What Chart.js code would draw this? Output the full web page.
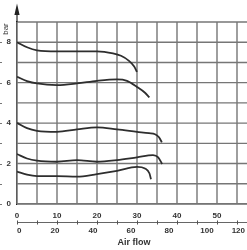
<!DOCTYPE html>
<html><head><meta charset="utf-8">
<script src="https://cdn.jsdelivr.net/npm/chart.js@4.4.0/dist/chart.umd.min.js"></script>
<style>html,body{margin:0;padding:0;background:#fff;overflow:hidden;width:247px;height:250px}#wrap{width:270px;height:250px}</style>
</head><body><div id="wrap"><canvas id="c" width="270" height="250"></canvas></div>
<script>
// Air flow (upper scale units) and pressure (bar) for each curve
const flow8 = [0, 2.5, 5, 10, 15, 20, 24, 26, 28, 29.3, 30];
const bar8  = [8.0, 7.75, 7.6, 7.55, 7.55, 7.55, 7.45, 7.33, 7.08, 6.8, 6.53];
const flow6 = [0, 2.5, 5, 10, 15, 20, 25, 27.5, 30, 32, 33.1];
const bar6  = [6.29, 6.08, 5.96, 5.88, 5.96, 6.09, 6.16, 6.09, 5.79, 5.5, 5.27];
const flow4 = [0, 2.5, 5, 10, 15, 20, 25, 30, 33, 34.5, 35.5, 36.2];
const bar4  = [4.01, 3.75, 3.62, 3.57, 3.69, 3.79, 3.69, 3.57, 3.5, 3.45, 3.3, 3.05];
const flow2 = [0, 2.5, 5, 10, 15, 20, 25, 30, 34, 35.3, 36.3];
const bar2  = [2.47, 2.25, 2.14, 2.09, 2.17, 2.09, 2.17, 2.31, 2.42, 2.31, 1.98];
const flow1 = [0, 2.5, 5, 10, 15, 20, 25, 30, 32, 33.1, 33.5];
const bar1  = [1.60, 1.45, 1.38, 1.38, 1.35, 1.48, 1.64, 1.84, 1.76, 1.52, 1.22];
const upperTicks = [0, 10, 20, 30, 40, 50, 60];
const lowerTicks = [0, 20, 40, 60, 80, 100, 120];
const yTicks = [0, 2, 4, 6, 8];
const yLabel = 'bar';
const xLabel = 'Air flow';

const curves = [[flow8, bar8], [flow6, bar6], [flow4, bar4], [flow2, bar2], [flow1, bar1]];
const datasets = curves.map(([fx, py]) => ({
  data: fx.map((x, i) => ({x: x, y: py[i]})),
  borderColor: '#2e2e2e', borderWidth: 1.8, pointRadius: 0,
  cubicInterpolationMode: 'monotone', fill: false
}));

const X_MAX = 62.5;
const RATIO = 0.475; // upper units per lower unit
const GRID = '#767676';
const tickFont = {family: 'Liberation Sans', size: 8, weight: 'bold'};

const decor = {
  id: 'decor',
  beforeDatasetsDraw(chart) {
    const ctx = chart.ctx, xs = chart.scales.x, ys = chart.scales.y, a = chart.chartArea;
    ctx.save();
    ctx.lineWidth = 1.4;
    ctx.strokeStyle = GRID;
    for (const t of xs.ticks) {
      const px = xs.getPixelForValue(t.value);
      ctx.beginPath(); ctx.moveTo(px, a.top); ctx.lineTo(px, a.bottom); ctx.stroke();
    }
    for (const t of ys.ticks) {
      const py = ys.getPixelForValue(t.value);
      ctx.beginPath(); ctx.moveTo(a.left, py); ctx.lineTo(a.right, py); ctx.stroke();
    }
    ctx.restore();
  },
  afterDraw(chart) {
    const ctx = chart.ctx, xs = chart.scales.x, ys = chart.scales.y;
    const ax = xs.left, top = ys.top;
    ctx.save();
    ctx.strokeStyle = '#222'; ctx.fillStyle = '#222'; ctx.lineWidth = 1.2;
    ctx.beginPath(); ctx.moveTo(ax, top); ctx.lineTo(ax, 13); ctx.stroke();
    ctx.beginPath(); ctx.moveTo(ax, 3.5); ctx.lineTo(ax - 2.6, 15); ctx.lineTo(ax + 2.6, 15); ctx.closePath(); ctx.fill();
    ctx.strokeStyle = '#777'; ctx.lineWidth = 1;
    for (let v = 0; v <= 8; v++) {
      const py = Math.round(ys.getPixelForValue(v)) + 0.5;
      ctx.beginPath(); ctx.moveTo(0, py); ctx.lineTo(2, py); ctx.stroke();
    }
    const x2 = chart.scales.x2;
    const ly = x2.top;
    ctx.strokeStyle = '#555';
    for (const t of xs.ticks) {
      const px = Math.round(xs.getPixelForValue(t.value)) + 0.5;
      ctx.beginPath(); ctx.moveTo(px, ly - 1.5); ctx.lineTo(px, ly + 2.5); ctx.stroke();
    }
    ctx.fillStyle = '#333';
    ctx.font = '8px "Liberation Sans"';
    ctx.translate(6, 29); ctx.rotate(-Math.PI / 2);
    ctx.textAlign = 'center'; ctx.textBaseline = 'middle';
    ctx.fillText(yLabel, 0, 0);
    ctx.setTransform(1, 0, 0, 1, 0, 0);
    ctx.font = 'bold 9px "Liberation Sans"';
    ctx.textAlign = 'center'; ctx.textBaseline = 'middle';
    ctx.fillText(xLabel, 134, 243);
    ctx.restore();
  }
};

new Chart(document.getElementById('c'), {
  type: 'line',
  data: {datasets},
  options: {
    responsive: false, animation: false, devicePixelRatio: 1,
    layout: {padding: {top: 22, right: 3, left: 0, bottom: 0}},
    plugins: {legend: {display: false}, tooltip: {enabled: false}},
    scales: {
      x: {
        type: 'linear', position: 'bottom', min: 0, max: X_MAX,
        afterFit(s) { s.height = 18; },
        afterBuildTicks(s) { s.ticks = []; for (let v = 0; v <= 60; v += 5) s.ticks.push({value: v}); },
        grid: {display: false, drawTicks: false},
        border: {display: true, color: GRID, width: 1.2},
        ticks: {padding: 7, color: '#333', font: tickFont, maxRotation: 0, autoSkip: false,
          callback: v => upperTicks.includes(v) ? String(v) : ''}
      },
      x2: {
        type: 'linear', position: 'bottom', min: 0, max: X_MAX / RATIO,
        afterFit(s) { s.height = 28; },
        afterBuildTicks(s) { s.ticks = lowerTicks.map(v => ({value: v})); },
        grid: {display: false, drawTicks: false},
        border: {display: true, color: '#666', width: 1},
        ticks: {padding: 4, color: '#333', font: tickFont, maxRotation: 0, autoSkip: false, align: 'inner'}
      },
      y: {
        type: 'linear', min: 0, max: 9,
        afterFit(s) { s.width = 17; },
        afterBuildTicks(s) { s.ticks = []; for (let v = 0; v <= 9; v++) s.ticks.push({value: v}); },
        grid: {display: false, drawTicks: false},
        border: {display: true, color: '#222', width: 1.2},
        ticks: {padding: 6, color: '#333', font: tickFont, autoSkip: false,
          callback: v => yTicks.includes(v) ? String(v) : ''}
      }
    }
  },
  plugins: [decor]
});
</script></body></html>
